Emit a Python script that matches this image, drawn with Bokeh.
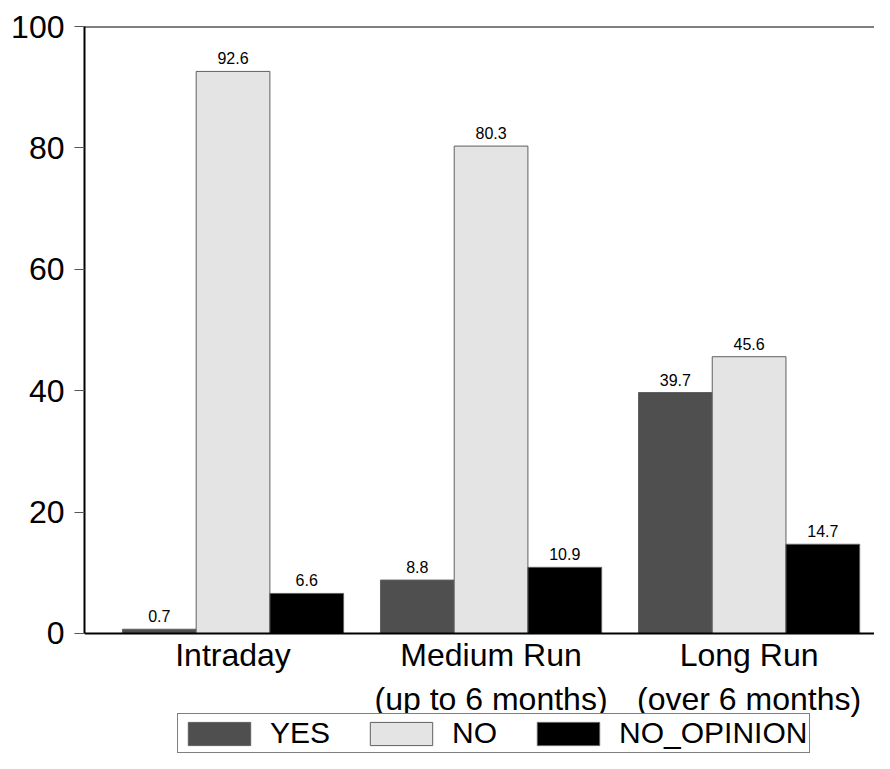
from bokeh.plotting import figure
from bokeh.models import (ColumnDataSource, Range1d, FixedTicker,
                          Legend, LegendItem, Span)
from bokeh.transform import dodge
from bokeh.embed import file_html
from bokeh.resources import INLINE

categories = ["Intraday", "Medium Run\n(up to 6 months)", "Long Run\n(over 6 months)"]
yes_vals = [0.7, 8.8, 39.7]
no_vals = [92.6, 80.3, 45.6]
noop_vals = [6.6, 10.9, 14.7]
series_names = ["YES", "NO", "NO_OPINION"]
series_colors = ["#4f4f4f", "#e4e4e4", "#000000"]
y_ticks = [0, 20, 40, 60, 80, 100]

FONT = "Liberation Sans"
BAR_W = 0.2857

src = ColumnDataSource(dict(
    x=list(range(len(categories))),
    YES=yes_vals, NO=no_vals, NO_OPINION=noop_vals,
    YES_t=["%.1f" % v for v in yes_vals],
    NO_t=["%.1f" % v for v in no_vals],
    NO_OPINION_t=["%.1f" % v for v in noop_vals],
))

W, H = 874, 753
p = figure(width=W, height=H, output_backend="svg", toolbar_location=None,
           x_range=Range1d(-0.5756, 2.486), y_range=Range1d(-19.77, 100),
           min_border_left=84, min_border_top=26, min_border_right=0,
           min_border_bottom=0)
p.grid.visible = False
p.outline_line_color = None
p.background_fill_color = "white"
p.border_fill_color = "white"

offsets = [-BAR_W, 0.0, BAR_W]
renderers = []
for name, col, off in zip(series_names, series_colors, offsets):
    r = p.vbar(x=dodge("x", off, range=p.x_range), top=name, width=BAR_W,
               source=src, fill_color=col, line_color="#606060", line_width=1)
    renderers.append(r)
    p.text(x=dodge("x", off, range=p.x_range), y=name, text=name + "_t", source=src,
           text_align="center", text_baseline="bottom", y_offset=-7,
           text_font_size="16px", text_font={"value": FONT}, text_color="black")

# axes
xa = p.xaxis[0]
xa.fixed_location = 0
xa.ticker = FixedTicker(ticks=list(range(len(categories))))
xa.major_label_overrides = {i: c for i, c in enumerate(categories)}
xa.major_tick_line_color = None
xa.minor_tick_line_color = None
xa.axis_line_width = 2
xa.axis_line_color = "black"
xa.major_label_text_font = FONT
xa.major_label_text_font_size = "32px"
xa.major_label_text_color = "black"
xa.major_label_standoff = -2

ya = p.yaxis[0]
ya.ticker = FixedTicker(ticks=y_ticks)
ya.bounds = (0, 100)
ya.minor_tick_line_color = None
ya.major_tick_in = 0
ya.major_tick_out = 10
ya.major_tick_line_color = "#555555"
ya.major_tick_line_width = 1
ya.axis_line_width = 2
ya.axis_line_color = "black"
ya.major_label_text_font = FONT
ya.major_label_text_font_size = "32px"
ya.major_label_text_color = "black"
ya.major_label_standoff = 10

p.add_layout(Span(location=100, dimension="width", line_color="black", line_width=2))

legend = Legend(items=[LegendItem(label=n, renderers=[r]) for n, r in zip(series_names, renderers)],
                orientation="horizontal", location=(93, 0),
                border_line_color="black", border_line_width=1,
                background_fill_color="white", background_fill_alpha=1,
                label_text_font=FONT, label_text_font_size="30px", label_text_color="black",
                glyph_width=78, glyph_height=29, label_standoff=12,
                spacing=32, padding=2, margin=0)
p.add_layout(legend, "center")

open("out.html", "w").write(file_html(p, INLINE))
